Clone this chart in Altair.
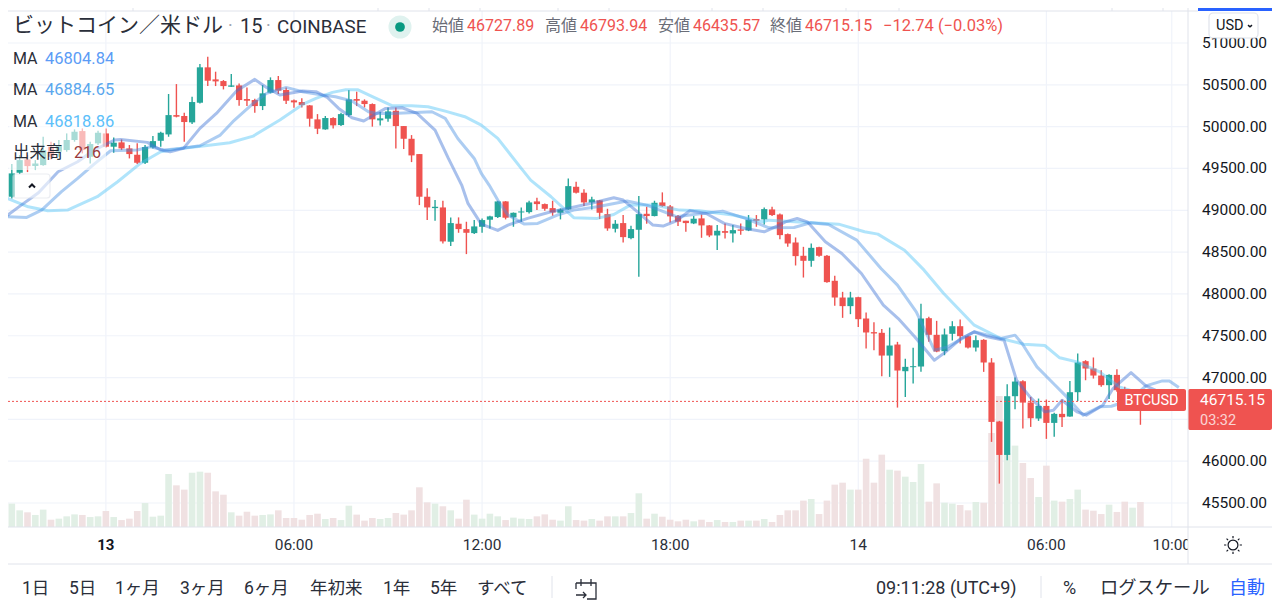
import altair as alt
import pandas as pd

bar_index = list(range(-13, 133))
opens = [49289,49162,49449,49608,49528,49540,49760,49700,49720,49840,
 49947,49640,49800,49919,49760,49812,49740,49664,49568,49752,
 49831,49907,50138,50127,50051,50286,50709,50565,50545,50477,
 50493,50330,50318,50246,50406,50557,50438,50314,50294,50254,
 50087,49967,50103,50019,50138,50330,50310,50270,50075,50095,
 50190,50007,49855,49672,49162,49026,49034,48624,48839,48775,
 48727,48803,48887,48919,49106,48915,48974,48978,49106,49074,
 49026,48970,49010,49281,49210,49094,49118,48954,48779,48847,
 48667,48767,48958,48931,49094,49046,48931,48875,48843,48903,
 48819,48699,48751,48723,48771,48759,48895,48891,49010,48950,
 48715,48615,48456,48396,48559,48456,48157,47957,47854,47961,
 47706,47543,47535,47263,47395,47076,47124,47132,47710,47511,
 47315,47523,47614,47495,47359,47451,47180,46474,46075,46777,
 46956,46701,46510,46661,46458,46566,46534,46825,47196,47108,
 47024,46909,47032,46849,46760,46727.89]
closes = [49162,49441,49600,49528,49560,49720,49640,49780,49840,49939,
 49720,49792,49927,49760,49808,49740,49672,49568,49756,49827,
 49927,50138,50119,50055,50294,50709,50549,50541,50485,50493,
 50318,50310,50246,50398,50557,50430,50310,50290,50258,50095,
 49975,50103,50015,50150,50326,50310,50270,50087,50099,50182,
 50007,49855,49656,49162,49034,49042,48628,48847,48775,48731,
 48807,48883,48927,49106,48911,48970,48986,49094,49074,49018,
 48974,49010,49289,49210,49094,49130,48970,48783,48839,48679,
 48775,48954,48931,49090,49050,48927,48863,48847,48899,48819,
 48699,48755,48731,48763,48755,48887,48875,49014,48943,48703,
 48603,48452,48396,48551,48456,48141,47957,47854,47957,47698,
 47539,47527,47263,47383,47084,47128,47136,47706,47511,47311,
 47515,47614,47495,47359,47447,47180,46470,46075,46777,46952,
 46701,46514,46661,46458,46566,46526,46825,47180,47108,47024,
 46909,47032,46849,46749,46830,46715.15]
highs = [49361,49552,49660,49660,49600,49879,49820,49839,49919,49967,
 49979,49820,49951,49979,49871,49847,49780,49800,49780,49887,
 49939,50390,50509,50166,50358,50748,50836,50657,50557,50629,
 50517,50469,50334,50497,50589,50605,50469,50326,50338,50258,
 50150,50127,50111,50166,50438,50418,50326,50278,50178,50230,
 50230,50007,49899,49672,49262,49122,49114,48915,48915,48863,
 48883,48903,48935,49114,49110,48974,49034,49114,49150,49082,
 49114,49022,49381,49341,49250,49162,49122,49018,48883,48943,
 48815,49170,49042,49114,49214,49062,48943,48875,48931,48950,
 48823,48823,48843,48823,48843,48943,48943,49034,49042,48962,
 48723,48675,48563,48603,48563,48464,48216,48025,48025,47965,
 47778,47662,47582,47598,47427,47224,47355,47881,47726,47678,
 47586,47674,47694,47503,47503,47459,47232,46482,46920,47000,
 46968,46769,46749,46737,46578,46737,46960,47287,47208,47240,
 47088,47040,47100,46889,46850,46793.94]
lows = [49122,49142,49433,49457,49481,49532,49608,49640,49700,49820,
 49680,49560,49780,49752,49688,49720,49620,49552,49552,49740,
 49760,49879,50111,49820,50031,50278,50485,50485,50445,50473,
 50250,50246,50166,50198,50398,50390,50270,50226,50230,50000,
 49911,49963,49979,50007,50119,50246,50230,50000,50015,50059,
 49740,49732,49576,49062,48883,48875,48604,48572,48731,48476,
 48715,48731,48783,48907,48891,48803,48863,48962,49002,48994,
 48935,48891,49006,49202,49050,49010,48895,48755,48735,48616,
 48655,48205,48839,48927,49042,48855,48811,48743,48835,48671,
 48679,48524,48663,48616,48707,48751,48803,48831,48931,48655,
 48563,48340,48196,48324,48444,48133,47858,47714,47758,47606,
 47347,47327,47016,47008,46641,46769,46929,47068,47427,47303,
 47267,47443,47407,47347,47311,47068,46231,45732,46012,46622,
 46390,46410,46482,46267,46291,46410,46530,46721,46968,46988,
 46889,46745,46829,46689,46700,46435.57]
volumes = [86,202,144,127,104,150,63,72,92,109,
 104,86,92,138,86,60,72,138,207,89,
 98,458,360,323,469,478,469,308,279,127,
 98,132,98,104,109,144,78,78,63,104,
 115,69,78,60,184,107,55,78,69,78,
 121,107,144,343,213,202,179,144,72,236,
 107,72,115,92,60,81,72,69,92,109,
 63,55,179,60,55,69,55,92,92,92,
 121,291,72,115,89,63,49,63,49,63,
 43,60,43,43,55,55,55,69,43,104,
 144,144,228,242,112,228,366,383,323,323,
 590,383,625,495,487,435,389,544,219,377,
 210,202,190,144,216,210,812,1132,639,703,
 553,423,259,530,228,219,242,323,150,141,
 112,193,130,219,167,216]

ma1_k = [-12.9,-10.8,-8.6,-6.1,-3.6,-1.5,1.1,1.9,5.3,7.0,8.2,9.9,12.0,14.1,16.7,19.0,20.5,22.2,25.1,26.8,28.3,29.7,31.4,32.9,34.2,35.7,37.8,39.7,42.0,43.7,45.4,46.2,47.9,50.0,51.3,53.8,56.8,58.9,62.2,64.8,66.0,67.3,69.8,71.1,72.8,74.5,76.6,78.9,81.6,84.0,85.9,86.7,88.2,89.5,91.8,93.9,96.4,99.2,101.1,103.2,105.7,107.0,109.1,110.8,112.5,114.6,116.2,117.9,119.8,120.9,122.0,123.9,125.1,127.2,128.5,130.8,132.7,133.9,136.9]
ma1_v = [48915,49062,49210,49461,49580,49720,49840,49847,49812,49720,49700,49740,49979,50158,50430,50565,50469,50378,50426,50418,50346,50218,50107,50067,50139,50218,50226,50158,49959,49620,49301,49082,48835,48759,48823,48903,48982,49022,49090,49150,49122,49022,48823,48811,48875,48994,48962,48843,48783,48743,48823,48862,48902,48862,48623,48483,48244,47865,47706,47487,47208,47295,47467,47547,47487,47447,46968,46769,46590,46610,46729,46590,46550,46670,46869,47060,46901,46849,46689]
ma2_k = [-12.9,-10.1,-8.2,-5.7,-3.6,-1.5,0.6,4.0,5.7,7.4,9.5,12.0,14.6,16.2,18.8,20.5,23.0,25.1,27.6,29.3,31.4,33.5,34.6,36.5,39.5,41.6,43.3,44.9,47.0,47.9,48.9,50.0,51.3,53.4,55.1,57.6,59.7,62.7,66.5,69.0,72.8,74.5,78.7,81.6,84.6,87.8,89.9,92.2,95.8,98.9,101.0,103.4,105.7,107.4,110.8,114.2,116.0,116.9,118.8,120.9,122.6,124.7,126.8,128.3,130.6,132.7,134.8,135.7,136.9]
ma2_v = [48923,48915,49002,49221,49381,49552,49712,49720,49760,49720,49740,49772,49899,50059,50278,50398,50469,50418,50378,50358,50306,50178,50158,50158,50170,50178,50099,49859,49620,49441,49301,49122,48943,48835,48843,48943,49002,49042,49110,49062,48923,48943,48990,48903,48790,48794,48850,48830,48643,48304,48105,47786,47327,47367,47547,47467,47507,47407,47128,46929,46769,46550,46650,46657,46729,46901,46960,46960,46881]
ma3_k = [-12.9,-9.9,-7.4,-4.9,-1.1,1.5,4.4,7.0,9.5,12.4,15.8,18.8,22.2,25.1,26.8,28.9,30.6,32.1,34.0,36.5,39.0,41.1,43.3,45.8,47.9,50.0,53.0,54.2,56.8,59.7,62.7,64.8,66.9,69.8,73.2,75.7,80.0,83.8,84.6,90.1,93.5,96.8,98.5,101.9,104.4,106.9,110.8,114.2,117.1,119.8,121.7,123.9,126.8,129.3,132.7,136.9]
ma3_v = [49154,49042,48994,49002,49162,49341,49560,49700,49740,49768,49808,49887,50079,50266,50338,50410,50442,50442,50358,50250,50250,50238,50186,50119,50019,49859,49501,49361,49162,48911,48903,48950,49062,49062,49002,48994,48943,48863,48882,48850,48834,48743,48715,48523,48284,48005,47626,47467,47399,47383,47236,47188,47068,46889,46789,46749]

price_ticks = [45500,46000,46500,47000,47500,48000,48500,49000,49500,50000,50500,51000]
price_labels = [45500,46000,47000,47500,48000,48500,49000,49500,50000,50500,51000]
time_ticks = [0,24,48,72,96,120,136]
time_labels = ["13","06:00","12:00","18:00","14","06:00","10:00"]
last_price = 46715.15

GREEN, RED = "#26a69a", "#ef5350"
FONT = 'Roboto, "Noto Sans CJK JP", sans-serif'
W, H = 1264, 592
xs = alt.Scale(domain=[-11.85, 148.15], range=[0, W], nice=False, zero=False)
ys = alt.Scale(domain=[44340.5, 51418.5], range=[H, 0], nice=False, zero=False)
vs = alt.Scale(domain=[-630.7, 4484], range=[H, 0], nice=False, zero=False)
X = alt.X("k:Q", scale=xs, axis=None)
one = pd.DataFrame({"a": [0]})

df = pd.DataFrame({"k": bar_index, "o": opens, "h": highs, "l": lows, "c": closes, "vol": volumes})
df["base"] = 0
df["color"] = [GREEN if c >= o else RED for o, c in zip(opens, closes)]
df["vcolor"] = ["#e1efe5" if c >= o else "#f0e1e2" for o, c in zip(opens, closes)]

def rect(x0, y0, x1, y1, fill, opacity=1, stroke=None, radius=0, sw=1):
    kw = dict(fill=fill, opacity=opacity, cornerRadius=radius)
    if stroke:
        kw.update(stroke=stroke, strokeWidth=sw)
    return alt.Chart(one).mark_rect(**kw).encode(
        x=alt.value(x0 - 8), x2=alt.value(x1 - 8), y=alt.value(y0 - 8), y2=alt.value(y1 - 8))

def hline(x0, x1, y, color="#e0e3eb", w=1):
    return alt.Chart(one).mark_rule(color=color, strokeWidth=w).encode(
        x=alt.value(x0 - 8), x2=alt.value(x1 - 8), y=alt.value(y - 8))

def vline(x, y0, y1, color="#e0e3eb", w=1):
    return alt.Chart(one).mark_rule(color=color, strokeWidth=w).encode(
        x=alt.value(x - 8), y=alt.value(y0 - 8), y2=alt.value(y1 - 8))

def label(s, x, y, size=16, color="#131722", align="left", weight=400, opacity=1):
    return alt.Chart(one).mark_text(text=s, fontSize=size, color=color, align=align, baseline="middle",
                                    font=FONT, fontWeight=weight, opacity=opacity).encode(
        x=alt.value(x - 8), y=alt.value(y - 8))

def icon(path, x, y, size, color="#131722", sw=1.3):
    return alt.Chart(one).mark_point(shape=path, size=size, filled=False, stroke=color, strokeWidth=sw, opacity=1).encode(
        x=alt.value(x - 8), y=alt.value(y - 8))

layers = []
layers.append(alt.Chart(pd.DataFrame({"k": time_ticks})).mark_rule(color="#f0f3fa", strokeWidth=1.2).encode(
    x=X, y=alt.value(0), y2=alt.value(519)))
layers.append(alt.Chart(pd.DataFrame({"p": price_ticks})).mark_rule(color="#f0f3fa", strokeWidth=1.2).encode(
    y=alt.Y("p:Q", scale=ys, axis=None), x=alt.value(0), x2=alt.value(1180)))
layers.append(alt.Chart(df).mark_bar(size=6.6, clip=True).encode(
    x=X, y=alt.Y("vol:Q", scale=vs, axis=None), y2="base:Q", color=alt.Color("vcolor:N", scale=None)))
layers.append(alt.Chart(df).mark_rule(strokeWidth=1.4, clip=True).encode(
    x=X, y=alt.Y("h:Q", scale=ys, axis=None), y2="l:Q", color=alt.Color("color:N", scale=None)))
layers.append(alt.Chart(df).mark_bar(size=6.2, clip=True).encode(
    x=X, y=alt.Y("o:Q", scale=ys, axis=None), y2="c:Q", color=alt.Color("color:N", scale=None)))
for ks, vals, col in [(ma3_k, ma3_v, "#4fc3f7"), (ma2_k, ma2_v, "#4a90e2"), (ma1_k, ma1_v, "#3f74d4")]:
    layers.append(alt.Chart(pd.DataFrame({"k": ks, "v": vals})).mark_line(
        color=col, strokeWidth=3, opacity=0.45, clip=True, strokeJoin="round").encode(
        x=X, y=alt.Y("v:Q", scale=ys, axis=None), order="k:Q"))
layers.append(alt.Chart(pd.DataFrame({"p": [last_price]})).mark_rule(color=RED, strokeWidth=1, strokeDash=[2, 2]).encode(
    y=alt.Y("p:Q", scale=ys, axis=None), x=alt.value(0), x2=alt.value(1180)))

# top strip and frame
layers.append(rect(8, 8, 1280, 11, "#ffffff"))
# legend backdrop
layers.append(rect(9, 112, 106, 170, "#ffffff", 0.6))
layers.append(rect(13, 174, 50, 198, "#ffffff", 0.6, "#e0e3eb", 3, 1.2))
layers.append(icon("M-1,0.5L0,-0.5L1,0.5", 32, 186, 36, "#131722", 2))
layers.append(label("ビットコイン／米ドル", 13, 26, 21, "#2a2e39"))
layers.append(label("·", 228, 27, 18, "#a0a4ae"))
layers.append(label("15", 240, 27, 20, "#2a2e39"))
layers.append(label("·", 266, 27, 18, "#a0a4ae"))
layers.append(label("COINBASE", 277, 27, 18.8, "#2a2e39"))
layers.append(alt.Chart(one).mark_circle(size=530, color="#dff2ef", opacity=1).encode(x=alt.value(392), y=alt.value(19)))
layers.append(alt.Chart(one).mark_circle(size=95, color="#089981", opacity=1).encode(x=alt.value(392), y=alt.value(19)))
for x, name, val in [(432, "始値", "46727.89"), (545, "高値", "46793.94"), (658, "安値", "46435.57"), (770, "終値", "46715.15")]:
    layers.append(label(name, x, 26, 16, "#6a6d78"))
    layers.append(label(val, x + 35, 26, 16, RED))
layers.append(label("−12.74 (−0.03%)", 883, 26, 16.5, RED))

layers.append(label("MA", 13, 59, 16, "#2a2e39"))
layers.append(label("46804.84", 45, 59, 16.5, "#5b9cf6"))
layers.append(label("MA", 13, 90, 16, "#2a2e39"))
layers.append(label("46884.65", 45, 90, 16.5, "#5aa7ee"))
layers.append(label("MA", 13, 122, 16, "#2a2e39"))
layers.append(label("46818.86", 45, 122, 16.5, "#5cc0fa"))
layers.append(label("出来高", 13, 153, 16.5, "#2a2e39"))
layers.append(label("216", 74, 153, 16, "#9a3a3a"))

# price scale
layers.append(rect(1189, 11, 1280, 527, "#ffffff"))
layers.append(alt.Chart(pd.DataFrame({"p": price_labels, "t": [f"{p}.00" for p in price_labels]})).mark_text(
    fontSize=15.5, color="#131722", align="left", baseline="middle", font=FONT).encode(
    x=alt.value(1194), y=alt.Y("p:Q", scale=ys, axis=None), text="t:N"))
layers.append(rect(1209, 13, 1258, 38, "#ffffff", 0.95, "#e0e3eb", 4, 1.2))
layers.append(label("USD", 1216, 26, 14.5, "#131722"))
layers.append(icon("M-1,-0.4L0,0.4L1,-0.4", 1250, 26, 16, "#131722", 1.5))
layers.append(rect(1117, 389, 1186, 411, RED, 1, None, 2))
layers.append(label("BTCUSD", 1151.5, 401, 14.5, "#ffffff", "center"))
layers.append(rect(1188, 389, 1272, 430, RED, 1, None, 2))
layers.append(label("46715.15", 1200, 400, 15.5, "#ffffff"))
layers.append(label("03:32", 1200, 421, 14.5, "#ffffff", opacity=0.75))

# time axis
tdf = pd.DataFrame({"k": time_ticks, "t": time_labels})
layers.append(alt.Chart(tdf.iloc[:1]).mark_text(
    fontSize=15, color="#131722", align="center", baseline="middle", font=FONT, fontWeight=700).encode(
    x=X, y=alt.value(537), text="t:N"))
layers.append(alt.Chart(tdf.iloc[1:]).mark_text(
    fontSize=15.5, color="#2a2e39", align="center", baseline="middle", font=FONT).encode(
    x=X, y=alt.value(537), text="t:N"))
layers.append(rect(1188, 528, 1280, 564, "#ffffff"))
layers.append(hline(8, 1280, 527))
layers.append(hline(8, 1280, 564))
layers.append(vline(1188, 8, 564))
layers.append(hline(8, 1198, 11))
layers.append(rect(1198, 8, 1280, 11, "#2962ff"))
for x in [133, 378, 429, 480, 558, 609, 712, 763, 846, 899, 1112, 1163]:
    layers.append(vline(x, 8, 11))
sun = ("M0.55,0A0.55,0.55 0 1 1 -0.55,0A0.55,0.55 0 1 1 0.55,0Z"
       "M0,-0.75L0,-1M0,0.75L0,1M-0.75,0L-1,0M0.75,0L1,0"
       "M-0.55,-0.55L-0.72,-0.72M0.55,-0.55L0.72,-0.72M-0.55,0.55L-0.72,0.72M0.55,0.55L0.72,0.72")
layers.append(icon(sun, 1233, 545, 320, "#131722", 1.2))

# bottom toolbar
for s, x in [("1日", 22), ("5日", 69), ("1ヶ月", 115), ("3ヶ月", 180), ("6ヶ月", 244), ("年初来", 310), ("1年", 383), ("5年", 430), ("すべて", 477)]:
    layers.append(label(s, x, 589, 17.5, "#2a2e39"))
layers.append(vline(552, 576, 598))
layers.append(vline(1041, 576, 598))
cal = "M-1,-0.6L1,-0.6L1,1L0.1,1M-1,-0.6L-1,0M-0.5,-1L-0.5,-0.3M0.5,-1L0.5,-0.3M-1,0.6L0,0.6M-0.3,0.3L0,0.6L-0.3,0.9"
layers.append(icon(cal, 586, 589, 400, "#2a2e39", 1.3))
layers.append(label("09:11:28 (UTC+9)", 876, 589, 18, "#2a2e39"))
layers.append(label("%", 1063, 589, 18, "#2a2e39"))
layers.append(label("ログスケール", 1100, 589, 18.3, "#2a2e39"))
layers.append(label("自動", 1229, 589, 18, "#2962ff"))

chart = alt.layer(*layers).resolve_scale(y="independent").properties(
    width=W, height=H, padding=0, autosize="none", background="#ffffff"
).configure_view(stroke=None)

chart.save("out.html", embed_options={"renderer": "svg", "actions": False})
